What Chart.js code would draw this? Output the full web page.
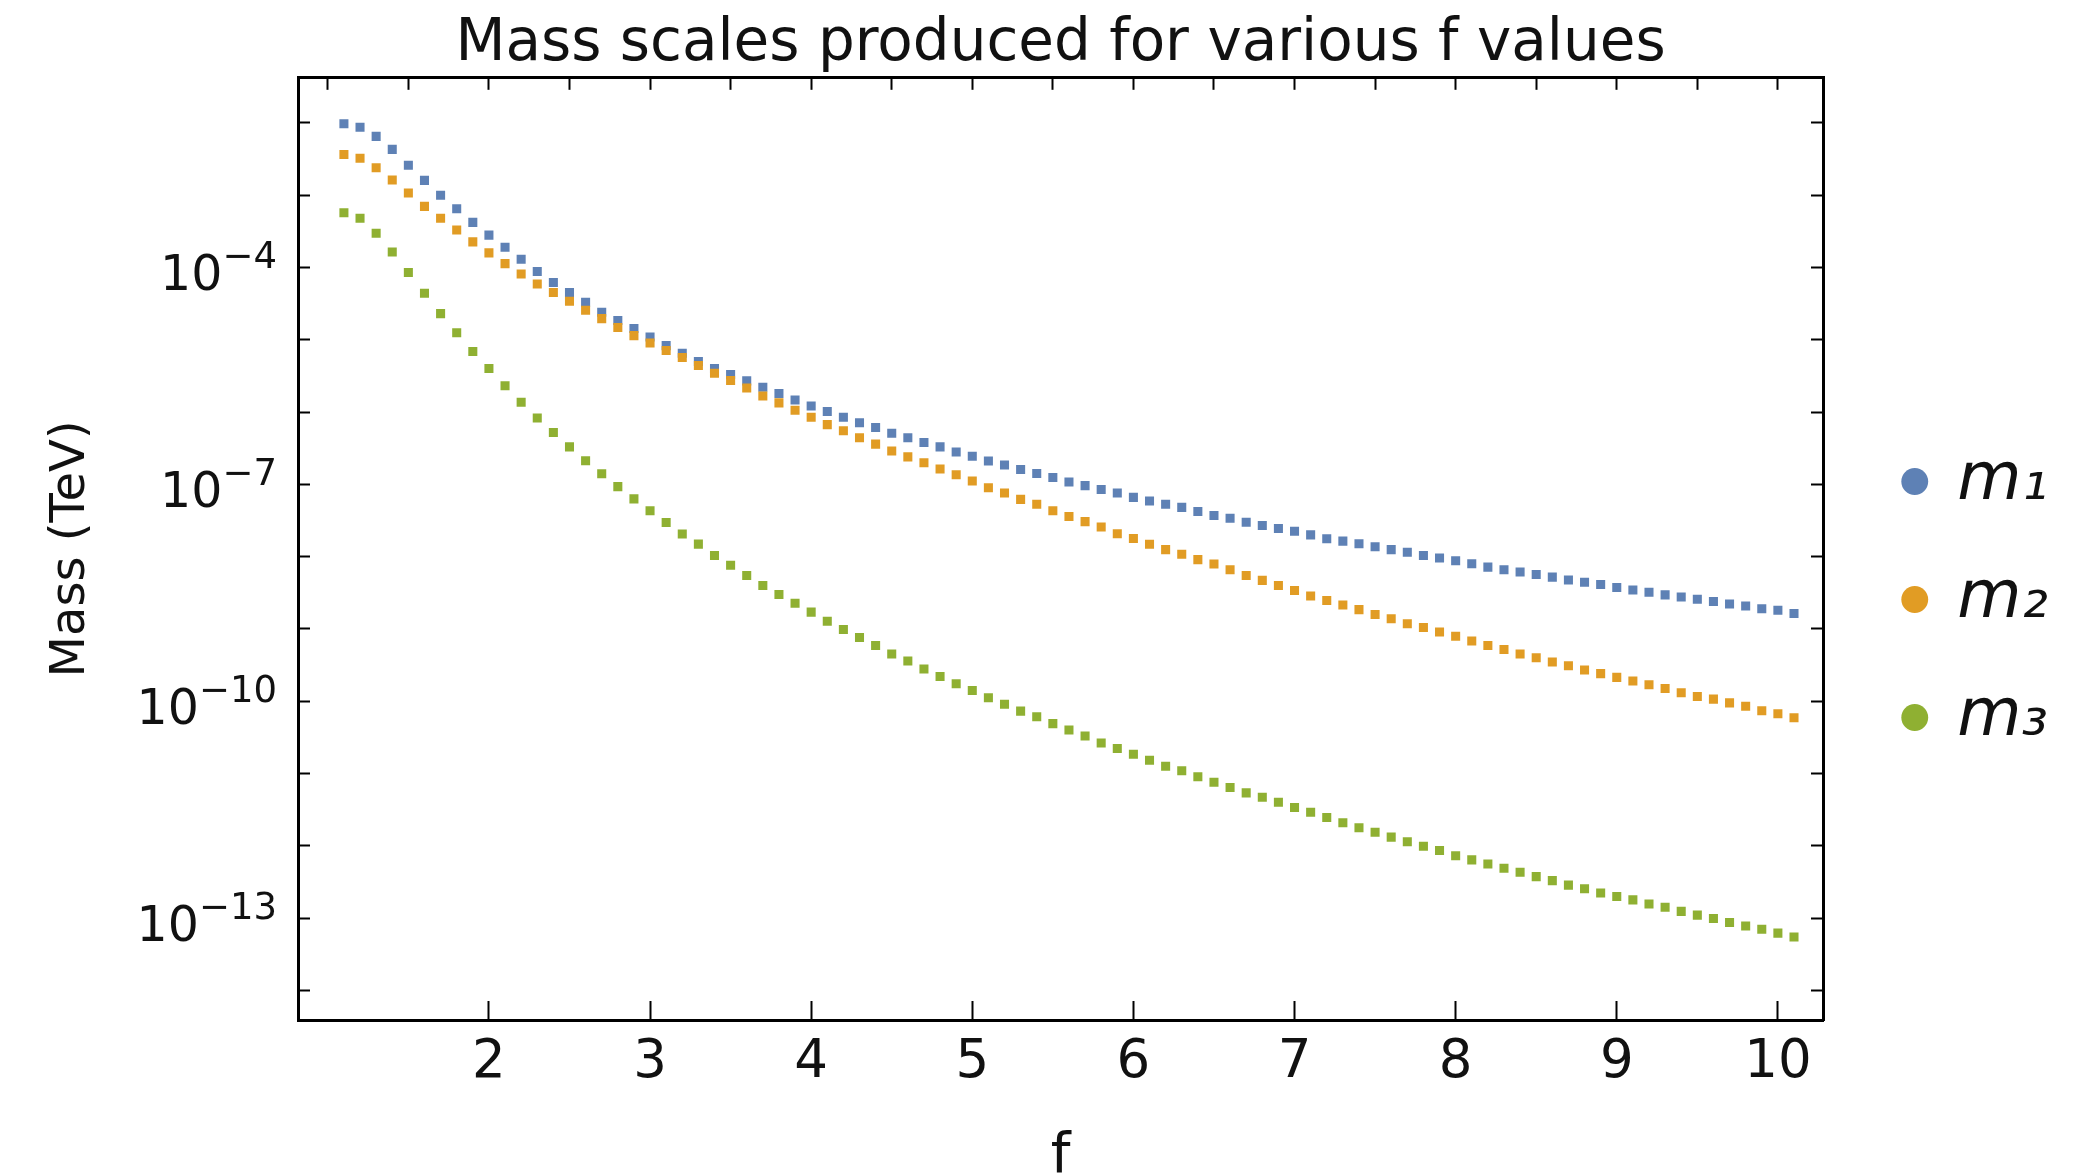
<!DOCTYPE html>
<html>
<head>
<meta charset="utf-8">
<title>Mass scales</title>
<script src="https://cdn.jsdelivr.net/npm/chart.js@4.4.0/dist/chart.umd.min.js"></script>
<style>
  html, body { margin: 0; padding: 0; background: #fff; }
  #wrap { width: 2080px; height: 1176px; }
</style>
</head>
<body>
<div id="wrap"><canvas id="chartMasas" width="2080" height="1176"></canvas></div>
<script>
// f values (x axis)
const fValues = [
  1.1, 1.2, 1.3, 1.4, 1.5, 1.6, 1.7, 1.8, 1.9, 2.0,
  2.1, 2.2, 2.3, 2.4, 2.5, 2.6, 2.7, 2.8, 2.9, 3.0,
  3.1, 3.2, 3.3, 3.4, 3.5, 3.6, 3.7, 3.8, 3.9, 4.0,
  4.1, 4.2, 4.3, 4.4, 4.5, 4.6, 4.7, 4.8, 4.9, 5.0,
  5.1, 5.2, 5.3, 5.4, 5.5, 5.6, 5.7, 5.8, 5.9, 6.0,
  6.1, 6.2, 6.3, 6.4, 6.5, 6.6, 6.7, 6.8, 6.9, 7.0,
  7.1, 7.2, 7.3, 7.4, 7.5, 7.6, 7.7, 7.8, 7.9, 8.0,
  8.1, 8.2, 8.3, 8.4, 8.5, 8.6, 8.7, 8.8, 8.9, 9.0,
  9.1, 9.2, 9.3, 9.4, 9.5, 9.6, 9.7, 9.8, 9.9, 10.0,
  10.1
];

// masses in TeV
const m1 = [
  9.7e-3, 8.7e-3, 6.5e-3, 4.3e-3, 2.6e-3, 1.6e-3, 1.0e-3, 6.5e-4, 4.2e-4, 2.8e-4,
  1.9e-4, 1.3e-4, 8.8e-5, 6.2e-5, 4.5e-5, 3.3e-5, 2.4e-5, 1.85e-5, 1.43e-5, 1.09e-5,
  8.3e-6, 6.5e-6, 5.0e-6, 4.0e-6, 3.3e-6, 2.7e-6, 2.2e-6, 1.8e-6, 1.47e-6, 1.21e-6,
  1.02e-6, 8.5e-7, 7.1e-7, 6.1e-7, 5.1e-7, 4.4e-7, 3.8e-7, 3.3e-7, 2.8e-7, 2.44e-7,
  2.11e-7, 1.85e-7, 1.6e-7, 1.41e-7, 1.24e-7, 1.08e-7, 9.6e-8, 8.5e-8, 7.6e-8, 6.6e-8,
  5.9e-8, 5.3e-8, 4.8e-8, 4.2e-8, 3.7e-8, 3.4e-8, 3.0e-8, 2.7e-8, 2.45e-8, 2.24e-8,
  2.0e-8, 1.77e-8, 1.64e-8, 1.51e-8, 1.37e-8, 1.25e-8, 1.15e-8, 1.04e-8, 9.6e-9, 8.75e-9,
  7.96e-9, 7.16e-9, 6.6e-9, 6.15e-9, 5.66e-9, 5.21e-9, 4.74e-9, 4.42e-9, 4.12e-9, 3.75e-9,
  3.45e-9, 3.21e-9, 2.96e-9, 2.76e-9, 2.58e-9, 2.4e-9, 2.21e-9, 2.08e-9, 1.9e-9, 1.81e-9,
  1.64e-9
];

const m2 = [
  3.65e-3, 3.24e-3, 2.39e-3, 1.62e-3, 1.07e-3, 7.0e-4, 4.8e-4, 3.3e-4, 2.26e-4, 1.59e-4,
  1.13e-4, 8.1e-5, 5.9e-5, 4.5e-5, 3.4e-5, 2.56e-5, 1.96e-5, 1.48e-5, 1.14e-5, 9.0e-6,
  7.1e-6, 5.7e-6, 4.4e-6, 3.44e-6, 2.74e-6, 2.15e-6, 1.67e-6, 1.34e-6, 1.06e-6, 8.5e-7,
  6.7e-7, 5.5e-7, 4.4e-7, 3.6e-7, 2.9e-7, 2.4e-7, 1.99e-7, 1.63e-7, 1.36e-7, 1.11e-7,
  9.0e-8, 7.6e-8, 6.2e-8, 5.3e-8, 4.3e-8, 3.6e-8, 3.05e-8, 2.57e-8, 2.08e-8, 1.78e-8,
  1.48e-8, 1.25e-8, 1.08e-8, 9.1e-9, 7.9e-9, 6.6e-9, 5.5e-9, 4.7e-9, 4.0e-9, 3.4e-9,
  2.86e-9, 2.48e-9, 2.15e-9, 1.85e-9, 1.58e-9, 1.38e-9, 1.18e-9, 1.05e-9, 9.1e-10, 7.9e-10,
  6.8e-10, 5.9e-10, 5.2e-10, 4.5e-10, 4.0e-10, 3.5e-10, 3.1e-10, 2.7e-10, 2.41e-10, 2.14e-10,
  1.9e-10, 1.69e-10, 1.5e-10, 1.31e-10, 1.16e-10, 1.07e-10, 9.5e-11, 8.5e-11, 7.4e-11, 6.7e-11,
  5.9e-11
];

const m3 = [
  5.7e-4, 4.8e-4, 2.97e-4, 1.64e-4, 8.5e-5, 4.4e-5, 2.3e-5, 1.25e-5, 6.9e-6, 4.0e-6,
  2.31e-6, 1.37e-6, 8.3e-7, 5.2e-7, 3.3e-7, 2.12e-7, 1.4e-7, 9.3e-8, 6.3e-8, 4.3e-8,
  2.97e-8, 2.06e-8, 1.49e-8, 1.04e-8, 7.6e-9, 5.5e-9, 4.0e-9, 3.0e-9, 2.26e-9, 1.71e-9,
  1.28e-9, 9.8e-10, 7.6e-10, 5.9e-10, 4.5e-10, 3.6e-10, 2.8e-10, 2.2e-10, 1.75e-10, 1.41e-10,
  1.12e-10, 9.1e-11, 7.3e-11, 6.1e-11, 4.9e-11, 4.0e-11, 3.3e-11, 2.65e-11, 2.22e-11, 1.85e-11,
  1.53e-11, 1.26e-11, 1.09e-11, 9.0e-12, 7.6e-12, 6.4e-12, 5.4e-12, 4.7e-12, 4.0e-12, 3.4e-12,
  2.91e-12, 2.47e-12, 2.09e-12, 1.78e-12, 1.54e-12, 1.32e-12, 1.14e-12, 9.9e-13, 8.6e-13, 7.3e-13,
  6.4e-13, 5.6e-13, 4.9e-13, 4.3e-13, 3.75e-13, 3.3e-13, 2.86e-13, 2.55e-13, 2.23e-13, 1.99e-13,
  1.79e-13, 1.57e-13, 1.41e-13, 1.24e-13, 1.1e-13, 9.9e-14, 8.7e-14, 7.8e-14, 7.0e-14, 6.2e-14,
  5.5e-14
];

const seriesNames = ["m\u2081", "m\u2082", "m\u2083"];

// axis ticks
const xTicks = [2, 3, 4, 5, 6, 7, 8, 9, 10];
const xTopTicks = [1, 1.5, 2, 2.5, 3, 3.5, 4, 4.5, 5, 5.5, 6, 6.5, 7, 7.5, 8, 8.5, 9, 9.5, 10];
const yTickExps = [-2, -3, -4, -5, -6, -7, -8, -9, -10, -11, -12, -13, -14];
const yLabelExps = [-4, -7, -10, -13];

const xMin = 0.815, xMax = 10.28;
const yMin = 3.9e-15, yMax = 4.2e-2;

const toPoints = ys => fValues.map((f, i) => ({ x: f, y: ys[i] }));

Chart.defaults.font.family = "'DejaVu Sans', sans-serif";
Chart.defaults.color = "#111";

const frame = { color: "#000", width: 3 };
const tickGrid = len => ({ drawOnChartArea: false, tickLength: len, tickWidth: 2, tickColor: "#000" });
const padRight = 22;

// y labels as 10 with a raised exponent
const expLabels = {
  id: "expLabels",
  afterDraw(chart) {
    const { ctx } = chart;
    const y = chart.scales.y;
    ctx.save();
    ctx.fillStyle = "#111";
    ctx.textAlign = "left";
    ctx.textBaseline = "alphabetic";
    yLabelExps.forEach(e => {
      const py = y.getPixelForValue(Math.pow(10, e));
      const exp = String(e).replace("-", "\u2212");
      ctx.font = "49px 'DejaVu Sans'";
      const wBase = ctx.measureText("10").width;
      ctx.font = "37px 'DejaVu Sans'";
      const wExp = ctx.measureText(exp).width;
      const x0 = y.right - 21 - wBase - wExp;
      ctx.font = "49px 'DejaVu Sans'";
      ctx.fillText("10", x0, py + 23);
      ctx.font = "37px 'DejaVu Sans'";
      ctx.fillText(exp, x0 + wBase, py + 1);
    });
    ctx.restore();
  }
};

new Chart(document.getElementById("chartMasas"), {
  type: "scatter",
  data: {
    datasets: [
      { label: seriesNames[0], data: toPoints(m1), backgroundColor: "#5E81B5", order: 2 },
      { label: seriesNames[1], data: toPoints(m2), backgroundColor: "#E19C24", order: 1 },
      { label: seriesNames[2], data: toPoints(m3), backgroundColor: "#8FB032", order: 0 }
    ].map(d => Object.assign(d, {
      xAxisID: "x", yAxisID: "y", borderWidth: 0, pointStyle: "rect", pointRadius: 6.4
    }))
  },
  options: {
    responsive: false,
    animation: false,
    devicePixelRatio: 1,
    events: [],
    layout: { padding: { top: 23, right: padRight, bottom: 0, left: 0 } },
    scales: {
      x: {
        type: "linear", position: "bottom", min: xMin, max: xMax,
        afterBuildTicks: s => { s.ticks = xTicks.map(v => ({ value: v })); },
        afterFit: s => { s.height = 156; },
        grid: tickGrid(-19),
        border: frame,
        ticks: { padding: 30, autoSkip: false, maxRotation: 0, font: { size: 53 }, callback: v => String(v) },
        title: { display: true, text: "f", font: { size: 56, lineHeight: 0.66 }, padding: 0 }
      },
      x2: {
        type: "linear", axis: "x", position: "top", min: xMin, max: xMax,
        afterBuildTicks: s => { s.ticks = xTopTicks.map(v => ({ value: v })); },
        afterFit: s => { s.height = 0; },
        grid: tickGrid(-12),
        border: frame,
        ticks: { display: false }
      },
      y: {
        type: "logarithmic", position: "left", min: yMin, max: yMax,
        afterBuildTicks: s => { s.ticks = yTickExps.map(e => ({ value: Math.pow(10, e) })); },
        afterFit: s => { s.width = 298; },
        grid: tickGrid(-12),
        border: frame,
        ticks: { autoSkip: false, callback: () => "" },
        title: { display: true, text: "Mass (TeV)", font: { size: 48 }, padding: { top: 43, bottom: 0 } }
      },
      y2: {
        type: "logarithmic", axis: "y", position: "right", min: yMin, max: yMax,
        afterBuildTicks: s => { s.ticks = yTickExps.map(e => ({ value: Math.pow(10, e) })); },
        afterFit: s => { s.width = 2080 - padRight - 1823 - s.chart.legend.width; },
        grid: tickGrid(-12),
        border: frame,
        ticks: { display: false }
      }
    },
    plugins: {
      title: {
        display: true, fullSize: false,
        text: "Mass scales produced for various f values",
        font: { size: 58, weight: "normal", lineHeight: 0.6 },
        padding: { top: 5, bottom: 15 }
      },
      legend: {
        position: "right", align: "center",
        labels: {
          usePointStyle: true, pointStyle: "circle", boxWidth: 19, boxHeight: 19, padding: 52,
          font: { size: 66, style: "italic" },
          sort: (a, b) => a.datasetIndex - b.datasetIndex
        }
      },
      tooltip: { enabled: false }
    }
  },
  plugins: [expLabels]
});
</script>
</body>
</html>
